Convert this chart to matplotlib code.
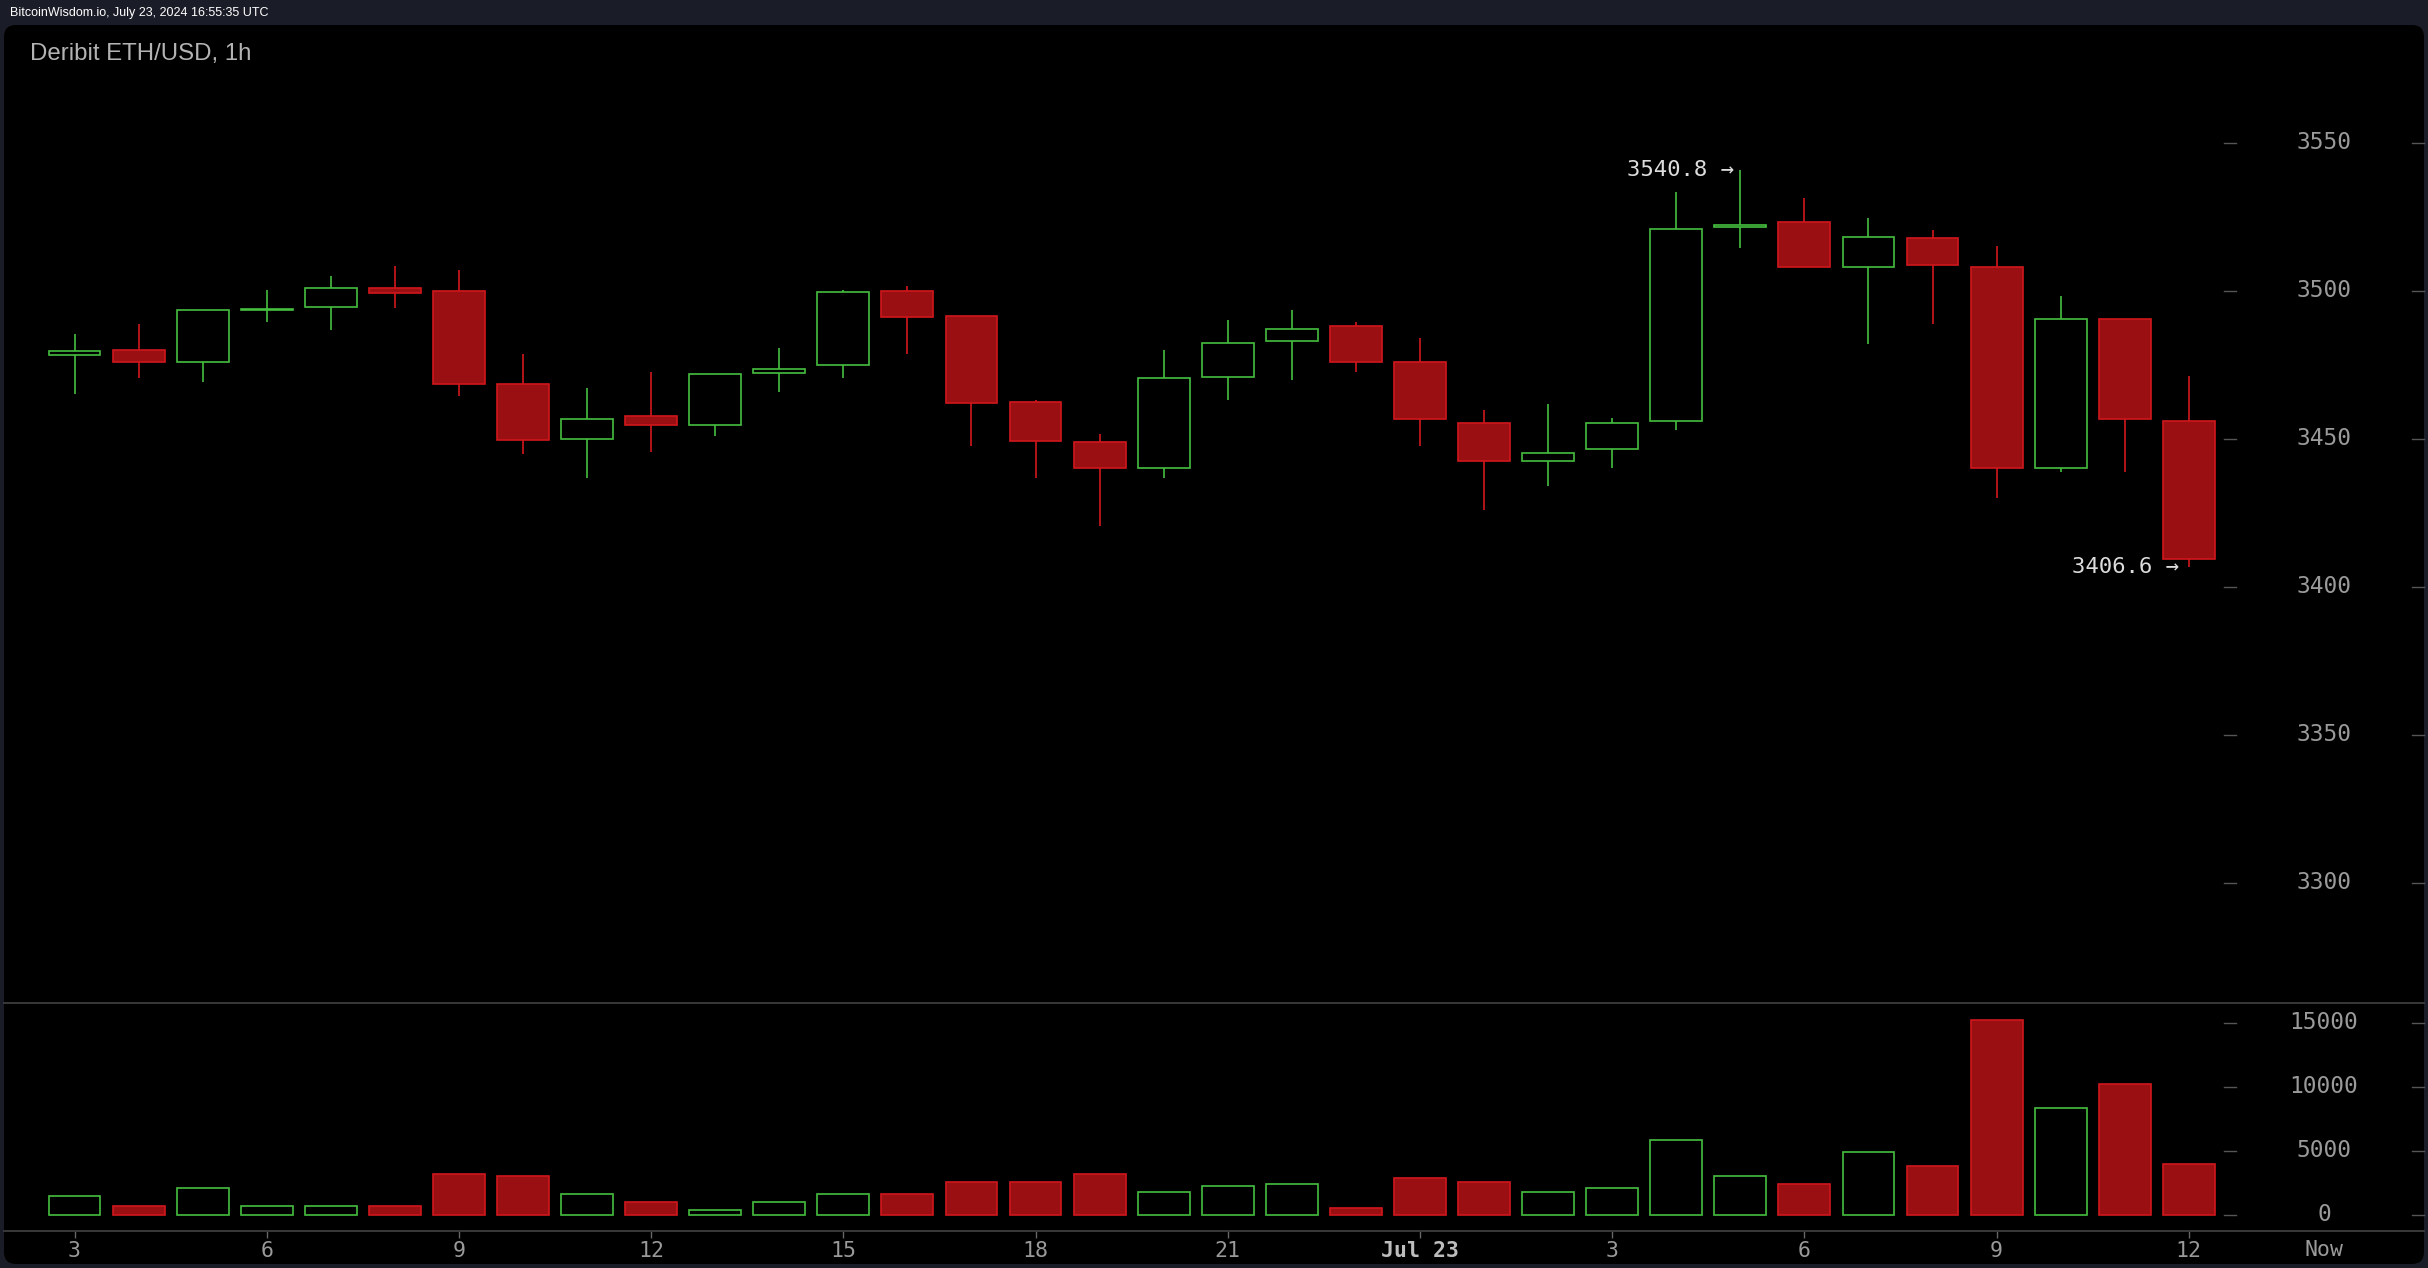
import matplotlib.pyplot as plt
from matplotlib.patches import FancyBboxPatch
import numpy as np

# === DATA (Deribit ETH/USD, 1h, Jul 22 03:00 -> Jul 23 12:00) ===
hours = [3, 4, 5, 6, 7, 8, 9, 10, 11, 12, 13, 14, 15, 16, 17, 18, 19, 20, 21, 22, 23,
         0, 1, 2, 3, 4, 5, 6, 7, 8, 9, 10, 11, 12]
opens = [3478.2, 3479.9, 3476.1, 3493.6, 3494.4, 3500.8, 3500.1, 3468.4, 3449.8, 3457.6,
         3454.5, 3472.1, 3474.8, 3500.1, 3491.4, 3462.3, 3448.8, 3440.3, 3470.8, 3482.9,
         3488.0, 3475.8, 3455.4, 3442.4, 3446.4, 3455.9, 3521.4, 3523.1, 3508.0, 3517.7,
         3508.2, 3440.3, 3490.5, 3456.1]
closes = [3479.7, 3476.0, 3493.4, 3494.0, 3500.8, 3499.1, 3468.6, 3449.7, 3456.8, 3454.5,
          3471.8, 3473.6, 3499.5, 3491.0, 3462.0, 3449.1, 3440.3, 3470.4, 3482.4, 3487.2,
          3476.1, 3456.6, 3442.4, 3445.3, 3455.4, 3521.0, 3522.2, 3507.9, 3518.2, 3508.6,
          3440.3, 3490.5, 3456.6, 3409.3]
highs = [3485.4, 3488.7, 3493.4, 3500.2, 3505.0, 3508.3, 3507.0, 3478.5, 3467.1, 3472.5,
         3471.8, 3480.6, 3500.2, 3501.6, 3491.4, 3463.1, 3451.6, 3480.0, 3490.1, 3493.5,
         3489.4, 3484.0, 3459.7, 3461.7, 3457.0, 3533.3, 3540.8, 3531.3, 3524.6, 3520.5,
         3515.1, 3498.2, 3490.5, 3471.2]
lows = [3465.1, 3470.5, 3469.2, 3489.4, 3486.7, 3494.1, 3464.4, 3444.8, 3436.7, 3445.5,
        3450.9, 3465.8, 3470.5, 3478.6, 3447.5, 3436.7, 3420.5, 3436.7, 3463.1, 3469.8,
        3472.5, 3447.5, 3425.9, 3434.0, 3440.1, 3452.9, 3514.4, 3507.9, 3482.0, 3488.8,
        3430.0, 3438.7, 3438.7, 3406.6]
volumes = [1460, 680, 2080, 680, 680, 680, 3180, 3020, 1610, 990, 390, 990, 1610, 1610,
           2550, 2550, 3180, 1770, 2240, 2400, 520, 2860, 2550, 1770, 2080, 5830, 3020,
           2400, 4900, 3800, 15200, 8330, 10200, 3960]

price_ticks = [3300, 3350, 3400, 3450, 3500, 3550]
vol_ticks = [0, 5000, 10000, 15000]
high_label = "3540.8 →"
low_label = "3406.6 →"

# === STYLE ===
BG_OUTER = "#1a1d27"
GREEN = "#45c03f"
RED_EDGE = "#d0171c"
RED_FILL = "#990f12"
AXIS_GREY = "#3d3d3d"
LABEL_GREY = "#9a9a9a"
MONO = "DejaVu Sans Mono"

W, H = 2428, 1268
fig = plt.figure(figsize=(W / 100, H / 100), dpi=100, facecolor=BG_OUTER)

# black rounded panel
panel = FancyBboxPatch((4 / 100, 4 / 100), 2420 / 100, 1239 / 100,
                       boxstyle="round,pad=0,rounding_size=0.12",
                       transform=fig.dpi_scale_trans, facecolor="black",
                       edgecolor="none", zorder=-1)
fig.add_artist(panel)

left, width = 4 / W, 2420 / W
ax = fig.add_axes([left, (H - 1003) / H, width, 978 / H])
axv = fig.add_axes([left, (H - 1231) / H, width, 228 / H], sharex=ax)

x = np.arange(len(opens))
o = np.array(opens)
c = np.array(closes)
up = c >= o
xlim = (-1.1004, 36.671)

# === CANDLES ===
wick_colors = [GREEN if u else RED_EDGE for u in up]
ax.vlines(x, lows, highs, colors=wick_colors, linewidth=1.2, zorder=2)
body_bottom = np.minimum(o, c)
body_height = np.abs(c - o)
ax.bar(x[up], body_height[up], bottom=body_bottom[up], width=0.81,
       facecolor="black", edgecolor=GREEN, linewidth=1.2, zorder=3)
ax.bar(x[~up], body_height[~up], bottom=body_bottom[~up], width=0.81,
       facecolor=RED_FILL, edgecolor=RED_EDGE, linewidth=1.2, zorder=3)

ax.set_xlim(*xlim)
ax.set_ylim(3259.4, 3589.8)

# high / low markers
i_hi = int(np.argmax(highs))
i_lo = int(np.argmin(lows))
ax.annotate(high_label, (x[i_hi], highs[i_hi]), xytext=(-6, 0), textcoords="offset pixels",
            ha="right", va="center", fontsize=16, family=MONO, color="#dcdcdc")
ax.annotate(low_label, (x[i_lo], lows[i_lo]), xytext=(-10, 0), textcoords="offset pixels",
            ha="right", va="center", fontsize=16, family=MONO, color="#dcdcdc")

# === VOLUME ===
v = np.array(volumes)
axv.bar(x[up], v[up], width=0.81, facecolor="black", edgecolor=GREEN, linewidth=1.2)
axv.bar(x[~up], v[~up], width=0.81, facecolor=RED_FILL, edgecolor=RED_EDGE, linewidth=1.2)
axv.set_ylim(-1250, 16562)

# === AXES DECORATION ===
label_x = (2324 - 4) / 2420
dash_spans = [((2224 - 4) / 2420, (2236 - 4) / 2420), ((2412 - 4) / 2420, 1.0)]
for a, ticks in ((ax, price_ticks), (axv, vol_ticks)):
    a.set_facecolor("none")
    for s in ("top", "left", "right"):
        a.spines[s].set_visible(False)
    a.spines["bottom"].set_color(AXIS_GREY)
    a.spines["bottom"].set_linewidth(1.3)
    a.set_yticks([])
    tr = a.get_yaxis_transform()
    for t in ticks:
        for x0, x1 in dash_spans:
            a.plot([x0, x1], [t, t], transform=tr, color="#555555", linewidth=1.0,
                   clip_on=False)
        a.text(label_x, t, str(t), transform=tr, ha="center", va="center",
               fontsize=16.5, family=MONO, color=LABEL_GREY)

ax.tick_params(axis="x", bottom=False, labelbottom=False)
tick_pos = x[::3]
tick_labels = [("Jul 23" if h == 0 else str(h)) for h in hours[::3]]
axv.set_xticks(tick_pos)
axv.set_xticklabels(tick_labels, family=MONO, fontsize=15.5, color=LABEL_GREY)
axv.tick_params(axis="x", direction="out", length=5, width=1, color="#666666", pad=2)
for lab in axv.get_xticklabels():
    if lab.get_text() == "Jul 23":
        lab.set_fontweight("bold")
        lab.set_color("#bdbdbd")
axv.text(label_x, -0.038, "Now", transform=axv.transAxes, ha="center", va="top",
         fontsize=15.5, family=MONO, color=LABEL_GREY)

# === HEADER TEXT ===
fig.text(10 / W, 1 - 13 / H, "BitcoinWisdom.io, July 23, 2024 16:55:35 UTC",
         ha="left", va="center", fontsize=9, family="Liberation Sans", color="white")
fig.text(30 / W, 1 - 60 / H, "Deribit ETH/USD, 1h", ha="left", va="baseline",
         fontsize=17.3, family="Liberation Sans", color="#b3b3b3")

fig.savefig("out.png", dpi=100, facecolor=BG_OUTER)
